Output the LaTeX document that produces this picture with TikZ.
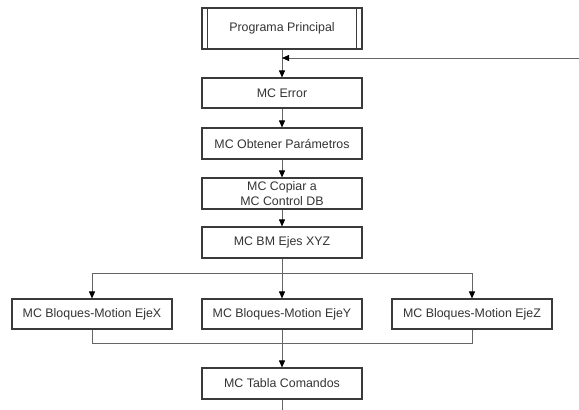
\documentclass[tikz,border=0pt]{standalone}
\usepackage{fontspec}
\setmainfont{Liberation Sans}
\usetikzlibrary{arrows.meta}
\definecolor{boxc}{HTML}{3A3A3A}
\definecolor{linec}{HTML}{666666}
\definecolor{txtc}{HTML}{333333}
\tikzset{
  blk/.style={draw=boxc, line width=1.1pt, minimum width=160pt, minimum height=30pt,
    inner sep=0pt, align=center, text=txtc, font=\fontsize{12.4}{14.5}\selectfont},
  conn/.style={draw=linec, line width=0.8pt},
  arr/.style={conn, -{Triangle[width=6pt,length=7pt,color=black]}}
}
\begin{document}
\begin{tikzpicture}[x=1pt,y=-1pt]
\useasboundingbox (0,0) rectangle (579,410);
\node[blk, minimum height=41pt] (pp) at (282,28.5) {Programa Principal};
\draw[boxc, line width=1.1pt] ([xshift=6pt]pp.north west) -- ([xshift=6pt]pp.south west);
\draw[boxc, line width=1.1pt] ([xshift=-6pt]pp.north east) -- ([xshift=-6pt]pp.south east);
\node[blk] (err) at (282,93) {MC Error};
\node[blk, minimum height=31pt] (obt) at (282,143.5) {MC Obtener Parámetros};
\node[blk, minimum height=31pt] (cop) at (282,193.5) {MC Copiar a\\MC Control DB};
\node[blk, minimum height=31pt] (bm) at (282,242.5) {MC BM Ejes XYZ};
\node[blk] (bx) at (92,314) {MC Bloques-Motion EjeX};
\node[blk] (by) at (282,314) {MC Bloques-Motion EjeY};
\node[blk] (bz) at (472,314) {MC Bloques-Motion EjeZ};
\node[blk, minimum height=31pt] (tab) at (282,383.5) {MC Tabla Comandos};
\coordinate (fbs) at (579,58);
\coordinate (fbj) at (282,58);
\coordinate (spl) at (282,273);
\coordinate (mrg) at (282,343);
\coordinate (out) at (282,410);
\draw[arr] (pp) -- (err);
\draw[arr] (fbs) -- (fbj);
\draw[arr] (err) -- (obt);
\draw[arr] (obt) -- (cop);
\draw[arr] (cop) -- (bm);
\draw[conn] (bm) -- (spl);
\draw[conn] (bx.north |- spl) -- (bz.north |- spl);
\draw[arr] (spl) -- (by);
\draw[arr] (bx.north |- spl) -- (bx);
\draw[arr] (bz.north |- spl) -- (bz);
\draw[conn] (bx) -- (bx.south |- mrg) -- (bz.south |- mrg) -- (bz);
\draw[arr] (by) -- (tab);
\draw[conn] (tab) -- (out);
\end{tikzpicture}
\end{document}
